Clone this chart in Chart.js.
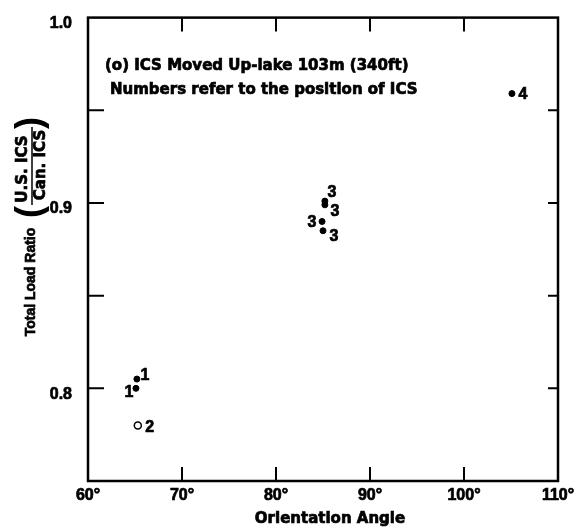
<!DOCTYPE html>
<html>
<head>
<meta charset="utf-8">
<script src="https://cdn.jsdelivr.net/npm/chart.js@4"></script>
<style>
  body { margin: 0; background: #fff; }
  canvas { display: block; }
</style>
</head>
<body>
<canvas id="loadChart" width="579" height="529"></canvas>
<script>
// valeurs
const filledAngles = [65.2, 65.1, 85.2, 85.2, 84.9, 85.0, 105.1];
const filledRatios = [0.805, 0.800, 0.901, 0.899, 0.890, 0.885, 0.959];
const filledNumbers = ['1', '1', '3', '3', '3', '3', '4'];
const openAngles = [65.3];
const openRatios = [0.780];
const openNumbers = ['2'];
const xTickValues = [60, 70, 80, 90, 100, 110];
const yTickLabels = [0.8, 0.9, 1.0];
const noteLines = ['(o) ICS Moved Up-lake 103m (340ft)', 'Numbers refer to the position of ICS'];

// décalage des numéros par rapport au point (px)
const filledOffsets = [[8, -3], [-7, 4], [7, -9], [10, 7], [-10, 1], [11, 6], [11, 1]];
const openOffsets = [[12, 2]];

const FONT = '"Liberation Sans", Arial, sans-serif';
const WIDE = '"DejaVu Sans", sans-serif';

// texte un peu plus gras, comme le lettrage d'origine
function heavyText(ctx, txt, x, y) {
    ctx.lineWidth = 0.7;
    ctx.strokeText(txt, x, y);
    ctx.fillText(txt, x, y);
}

const framePlugin = {
    id: 'frame',
    afterDraw(chart) {
        const { ctx, chartArea: a, scales } = chart;
        const x = scales.x, y = scales.y;
        ctx.save();
        ctx.strokeStyle = '#000';
        ctx.lineWidth = 2.5;
        ctx.strokeRect(a.left, a.top, a.right - a.left, a.bottom - a.top);

        // petits traits vers l'intérieur
        ctx.lineWidth = 2;
        ctx.beginPath();
        xTickValues.slice(1, -1).forEach(v => {
            const px = x.getPixelForValue(v);
            ctx.moveTo(px, a.bottom); ctx.lineTo(px, a.bottom - 14);
            ctx.moveTo(px, a.top); ctx.lineTo(px, a.top + 14);
        });
        for (let v = 0.8; v < 0.99; v += 0.05) {
            const py = y.getPixelForValue(v);
            ctx.moveTo(a.left, py); ctx.lineTo(a.left + 16, py);
            ctx.moveTo(a.right, py); ctx.lineTo(a.right - 10, py);
        }
        ctx.stroke();

        // numéros des points
        ctx.fillStyle = '#000';
        ctx.font = 'bold 16px ' + FONT;
        ctx.textAlign = 'center';
        ctx.textBaseline = 'middle';
        const putNumbers = (dsIndex, numbers, offsets) => {
            chart.getDatasetMeta(dsIndex).data.forEach((el, i) => {
                heavyText(ctx, numbers[i], el.x + offsets[i][0], el.y + offsets[i][1]);
            });
        };
        putNumbers(0, filledNumbers, filledOffsets);
        putNumbers(1, openNumbers, openOffsets);

        // légende dans le cadre
        ctx.textAlign = 'left';
        ctx.font = 'bold 15px ' + WIDE;
        heavyText(ctx, noteLines[0], a.left + 17, 66);
        heavyText(ctx, noteLines[1], a.left + 22, 90);

        // axe x : titre
        ctx.textAlign = 'center';
        heavyText(ctx, 'Orientation Angle', 330, 519);

        // titre de l'axe y avec la fraction
        ctx.rotate(-Math.PI / 2);
        ctx.font = 'bold 14px ' + FONT;
        heavyText(ctx, 'Total Load Ratio', -282, 31);
        ctx.font = 'bold 15px ' + WIDE;
        heavyText(ctx, 'U.S. ICS', -169, 23);
        heavyText(ctx, 'Can. ICS', -165, 41);
        ctx.lineWidth = 1.5;
        ctx.beginPath();
        ctx.moveTo(-205, 32); ctx.lineTo(-127, 32);
        ctx.stroke();
        ctx.font = 'bold 36px ' + FONT;
        ctx.fillText('(', -212, 31);
        ctx.fillText(')', -123, 31);
        ctx.restore();
    }
};

document.addEventListener('DOMContentLoaded', () => {
    const ctx = document.getElementById('loadChart').getContext('2d');
    const toPoints = (xs, ys) => xs.map((v, i) => ({ x: v, y: ys[i] }));
    const tickFont = { family: FONT, size: 16, weight: 'bold' };

    new Chart(ctx, {
        type: 'scatter',
        data: {
            datasets: [
                {
                    label: 'ICS',
                    data: toPoints(filledAngles, filledRatios),
                    backgroundColor: '#000',
                    borderColor: '#000',
                    pointRadius: 3,
                },
                {
                    label: 'ICS moved up-lake',
                    data: toPoints(openAngles, openRatios),
                    backgroundColor: '#fff',
                    borderColor: '#000',
                    borderWidth: 1.5,
                    pointRadius: 3.5,
                },
            ],
        },
        options: {
            responsive: false,
            animation: false,
            layout: { padding: { left: 0, right: 21, top: 16, bottom: 0 } },
            plugins: {
                legend: { display: false },
                tooltip: { enabled: false },
            },
            scales: {
                x: {
                    type: 'linear',
                    min: 60,
                    max: 110,
                    grid: { display: false },
                    border: { display: false },
                    afterFit: s => { s.height = 48; },
                    ticks: {
                        stepSize: 10,
                        padding: -3,
                        color: '#000',
                        textStrokeColor: '#000',
                        textStrokeWidth: 0.7,
                        font: tickFont,
                        callback: v => v + '°',
                    },
                },
                y: {
                    min: 0.75,
                    max: 1.0,
                    grid: { display: false },
                    border: { display: false },
                    afterFit: s => { s.width = 88; },
                    ticks: {
                        stepSize: 0.05,
                        padding: 8,
                        labelOffset: 6,
                        color: '#000',
                        textStrokeColor: '#000',
                        textStrokeWidth: 0.7,
                        font: tickFont,
                        callback: v => {
                            const r = Math.round(v * 100) / 100;
                            return yTickLabels.includes(r) ? r.toFixed(1) : '';
                        },
                    },
                },
            },
        },
        plugins: [framePlugin],
    });
});
</script>
</body>
</html>
